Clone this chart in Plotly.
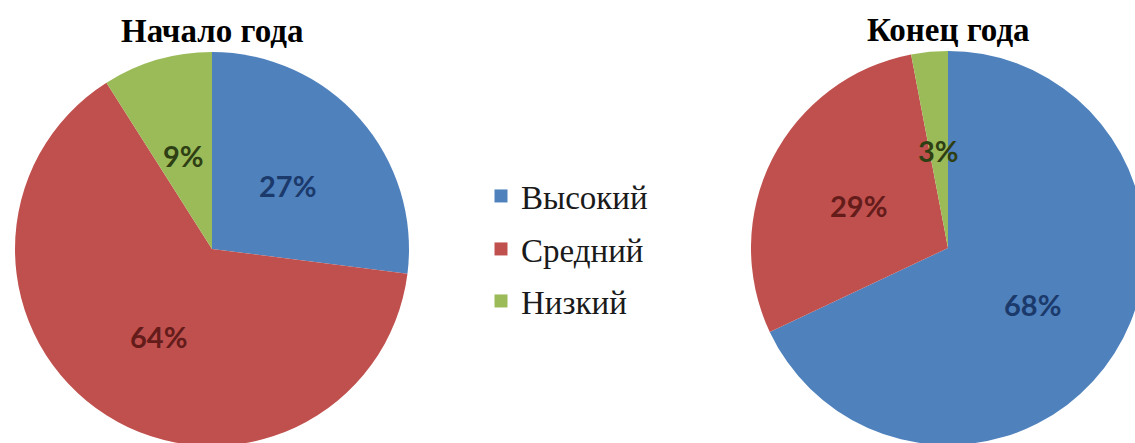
import math
import plotly.graph_objects as go

categories = ["Высокий", "Средний", "Низкий"]
start_values = [27, 64, 9]
end_values = [68, 29, 3]
titles = ["Начало года", "Конец года"]

colors = ["#4F81BD", "#C0504D", "#9BBB59"]
text_colors = ["#1B3A6B", "#641C1B", "#2F3F14"]

# figure slightly larger than the 1135x443 window; the page is clipped like the reference
W, H = 1150, 450

# pie geometry in pixels: centre x, centre y, radius
pies = [
    dict(values=start_values, title=titles[0], cx=212, cy=249, r=197, ty=31),
    dict(values=end_values, title=titles[1], cx=948, cy=248, r=197, ty=30),
]

fig = go.Figure()
annotations = []
for p in pies:
    cx, cy, r = p["cx"], p["cy"], p["r"]
    fig.add_trace(go.Pie(
        labels=categories, values=p["values"], sort=False, direction="clockwise", rotation=0,
        marker=dict(colors=colors, line=dict(width=0)),
        textinfo="none",
        domain=dict(x=[(cx - r) / W, (cx + r) / W], y=[1 - (cy + r) / H, 1 - (cy - r) / H]),
        showlegend=False, hoverinfo="label+percent",
    ))
    # percentage labels placed at half radius on each slice's mid-angle
    total = sum(p["values"])
    cum = 0
    for v, tc in zip(p["values"], text_colors):
        mid = (cum + v / 2) / total * 2 * math.pi
        cum += v
        lx = cx + 0.51 * r * math.sin(mid)
        ly = cy - 0.51 * r * math.cos(mid) + 3
        annotations.append(dict(
            text=f"<b>{v}%</b>", x=lx / W, y=1 - ly / H, xref="paper", yref="paper",
            showarrow=False, xanchor="center", yanchor="middle",
            font=dict(family="Lato", size=29, color=tc),
        ))
    annotations.append(dict(
        text="<b>" + p["title"] + "</b>", x=cx / W, y=1 - p["ty"] / H, xref="paper", yref="paper",
        showarrow=False, font=dict(family="Liberation Serif", size=33, color="black"),
        xanchor="center", yanchor="middle",
    ))

# legend entries (one legend per entry for the wide spacing)
legend_names = ["legend", "legend2", "legend3"]
legend_y = [196, 249, 301]
for name, col, lg in zip(categories, colors, legend_names):
    fig.add_trace(go.Scatter(
        x=[None], y=[None], mode="markers", name=name,
        marker=dict(symbol="square", size=13, color=col),
        legend=lg, showlegend=True, hoverinfo="skip",
    ))

legend_common = dict(
    font=dict(family="Liberation Serif", size=33, color="#1a1a1a"),
    bgcolor="rgba(0,0,0,0)", x=481 / W, xanchor="left", yanchor="middle",
    itemwidth=30,
)
layout_legends = {}
for lg, yy in zip(legend_names, legend_y):
    layout_legends[lg] = dict(legend_common, y=1 - yy / H)

fig.update_layout(
    width=W, height=H, margin=dict(l=0, r=0, t=0, b=0),
    paper_bgcolor="white", plot_bgcolor="white",
    xaxis=dict(visible=False), yaxis=dict(visible=False),
    annotations=annotations,
    **layout_legends,
)

fig.write_html(
    "out.html",
    config={"displayModeBar": False},
    post_script=(
        "document.body.style.margin='0';"
        "document.body.style.overflow='hidden';"
        "document.documentElement.style.overflow='hidden';"
    ),
)
